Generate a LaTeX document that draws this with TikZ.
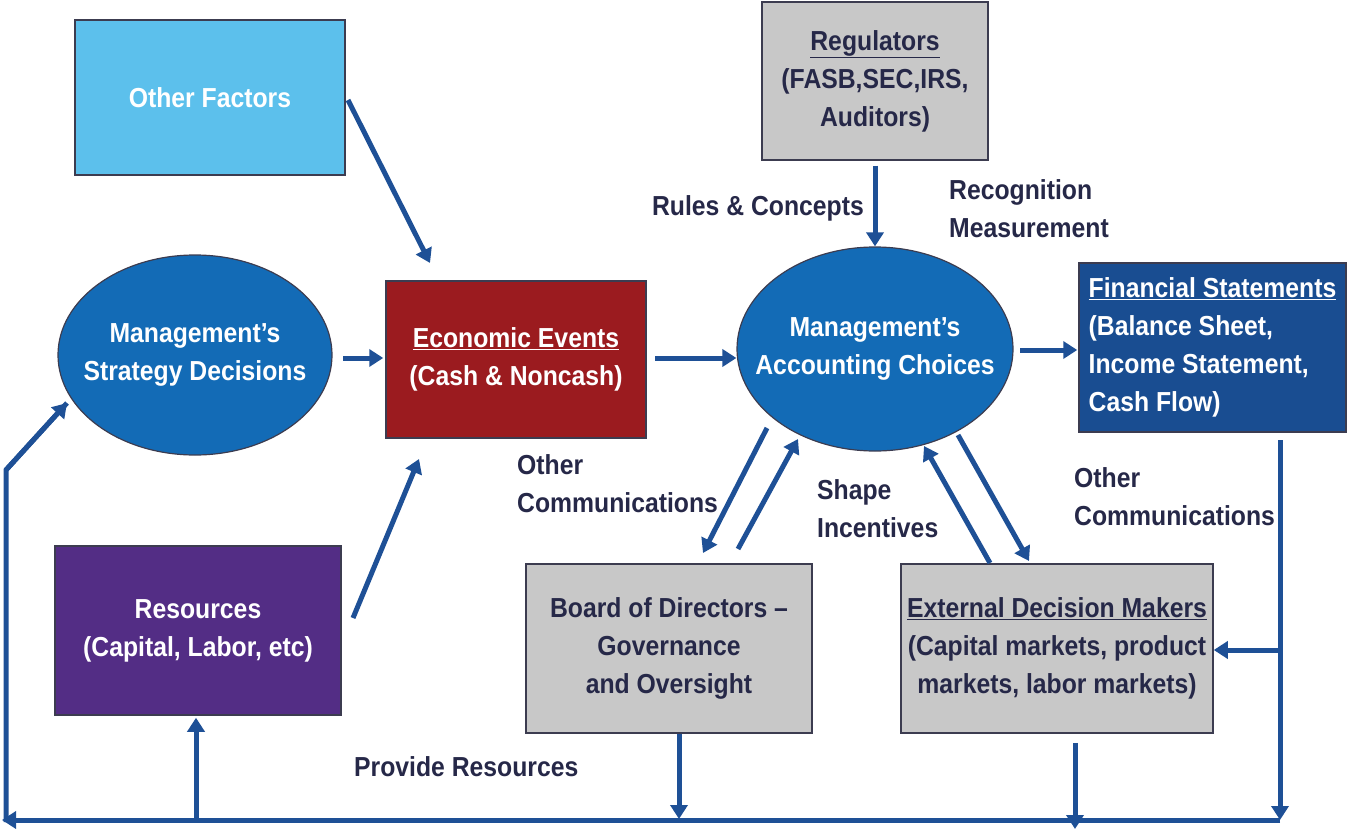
\documentclass[tikz,border=0pt]{standalone}
\usepackage{fontspec}
\setmainfont{Liberation Sans}[FakeStretch=0.9]
\usetikzlibrary{arrows.meta,shapes.geometric}
\definecolor{ofblue}{RGB}{92,192,236}
\definecolor{regray}{RGB}{200,200,200}
\definecolor{bordercol}{RGB}{60,60,80}
\definecolor{ellblue}{RGB}{19,107,182}
\definecolor{econred}{RGB}{155,27,31}
\definecolor{finblue}{RGB}{25,77,145}
\definecolor{respurple}{RGB}{83,45,133}
\definecolor{arrowblue}{RGB}{30,80,150}
\definecolor{txtnavy}{RGB}{38,40,72}
\newcommand{\ul}[1]{\underline{#1}}
\begin{document}
\begin{tikzpicture}[x=1pt,y=-1pt,
  every node/.style={font=\fontsize{27.5}{38}\selectfont\bfseries},
  boxnode/.style={draw=bordercol,line width=1.5pt,rectangle,inner sep=0pt,align=center},
  graybox/.style={boxnode,fill=regray,text=txtnavy},
  ellnode/.style={draw=bordercol,line width=1.2pt,ellipse,fill=ellblue,text=white,align=center,inner xsep=-40pt,inner ysep=-10pt},
  lbl/.style={text=txtnavy,align=left,inner sep=0pt},
  arr/.style={draw=arrowblue,line width=5pt,-{Triangle[length=14pt,width=17pt]}},
  ln/.style={draw=arrowblue,line width=5pt}]
\useasboundingbox (0,0) rectangle (1348,829);

% nodes
\node[boxnode,fill=ofblue,text=white,minimum width=270pt,minimum height=155pt] (of) at (210,97.5) {Other Factors};
\node[graybox,minimum width=226pt,minimum height=158pt] (reg) at (875,81) {\ul{Regulators}\\(FASB,SEC,IRS,\\Auditors)};
\node[ellnode,minimum width=274pt,minimum height=200pt] (strat) at (195,355) {Management's\\Strategy Decisions};
\node[boxnode,fill=econred,text=white,minimum width=260pt,minimum height=157pt] (econ) at (516,359.5) {\ul{Economic Events}\\(Cash \& Noncash)};
\node[ellnode,minimum width=276pt,minimum height=204pt] (acc) at (875,349) {Management's\\Accounting Choices};
\node[boxnode,fill=finblue,text=white,align=left,minimum width=267pt,minimum height=169pt] (fin) at (1212.5,347.5) {\ul{Financial Statements}\\(Balance Sheet,\\Income Statement,\\Cash Flow)};
\node[boxnode,fill=respurple,text=white,minimum width=286pt,minimum height=169pt] (res) at (198,630.5) {Resources\\(Capital, Labor, etc)};
\node[graybox,minimum width=286pt,minimum height=169pt] (bod) at (669,648.5) {Board of Directors --\\Governance\\and Oversight};
\node[graybox,minimum width=312pt,minimum height=169pt] (ext) at (1057,648.5) {\ul{External Decision Makers}\\(Capital markets, product\\markets, labor markets)};

% labels
\node[lbl,anchor=east] (lrules) at (864,208) {Rules \& Concepts};
\node[lbl,anchor=west] (lrec) at (949,209) {Recognition\\Measurement};
\node[lbl,anchor=west] (loc1) at (517,484) {Other\\Communications};
\node[lbl,anchor=west] (lshape) at (817,509) {Shape\\Incentives};
\node[lbl,anchor=west] (loc2) at (1074,497) {Other\\Communications};
\node[lbl,anchor=west] (lprov) at (354,767) {Provide Resources};

% coordinates
\coordinate (c1s) at (348,100); \coordinate (c1e) at (430,263);
\coordinate (c2s) at (353,618); \coordinate (c2e) at (419,459);
\coordinate (c3s) at (767,428); \coordinate (c3e) at (703,553);
\coordinate (c4s) at (738,549); \coordinate (c4e) at (798,439);
\coordinate (c5s) at (990,563); \coordinate (c5e) at (924,446);
\coordinate (c6s) at (958,435); \coordinate (c6e) at (1029,561);
\coordinate (sx) at (343,358); \coordinate (ex) at (655,358);
\coordinate (ax) at (1020,350);
\coordinate (fdown) at (1280,440);
\coordinate (fjoin) at (1280,650);
\coordinate (fbot) at (1280,820);
\coordinate (bleft) at (2,820);
\coordinate (lcorner) at (6,822);
\coordinate (lup) at (6,470);
\coordinate (ltip) at (67,403);
\coordinate (rbot) at (196,822);
\coordinate (bodbot) at (679,819);
\coordinate (extbot) at (1075,829);

% connectors
\draw[arr] (c1s) -- (c1e);
\draw[arr] (c2s) -- (c2e);
\draw[arr,shorten >=2pt] (sx) -- (sx -| econ.west);
\draw[arr] (ex) -- (ex -| acc.west);
\draw[arr,shorten >=1pt] (ax) -- (ax -| fin.west);
\draw[arr,shorten <=5pt] (reg.south) -- (acc.north);
\draw[arr] (c3s) -- (c3e);
\draw[arr] (c4s) -- (c4e);
\draw[arr] (c5s) -- (c5e);
\draw[arr] (c6s) -- (c6e);
\draw[arr] (fdown) -- (fbot);
\draw[arr] (fjoin) -- (fjoin -| ext.east);
\draw[arr] ([xshift=10pt]bod.south) -- (bodbot);
\draw[arr,shorten <=9pt] ([xshift=18pt]ext.south) -- (extbot);
\draw[arr] (fbot) -- (bleft);
\draw[ln,line join=miter] (lcorner) -- (lup) -- (ltip);
\draw[arr] (lup) -- (ltip);
\draw[arr,shorten >=2pt] (rbot) -- (res.south -| rbot);
\end{tikzpicture}
\end{document}
